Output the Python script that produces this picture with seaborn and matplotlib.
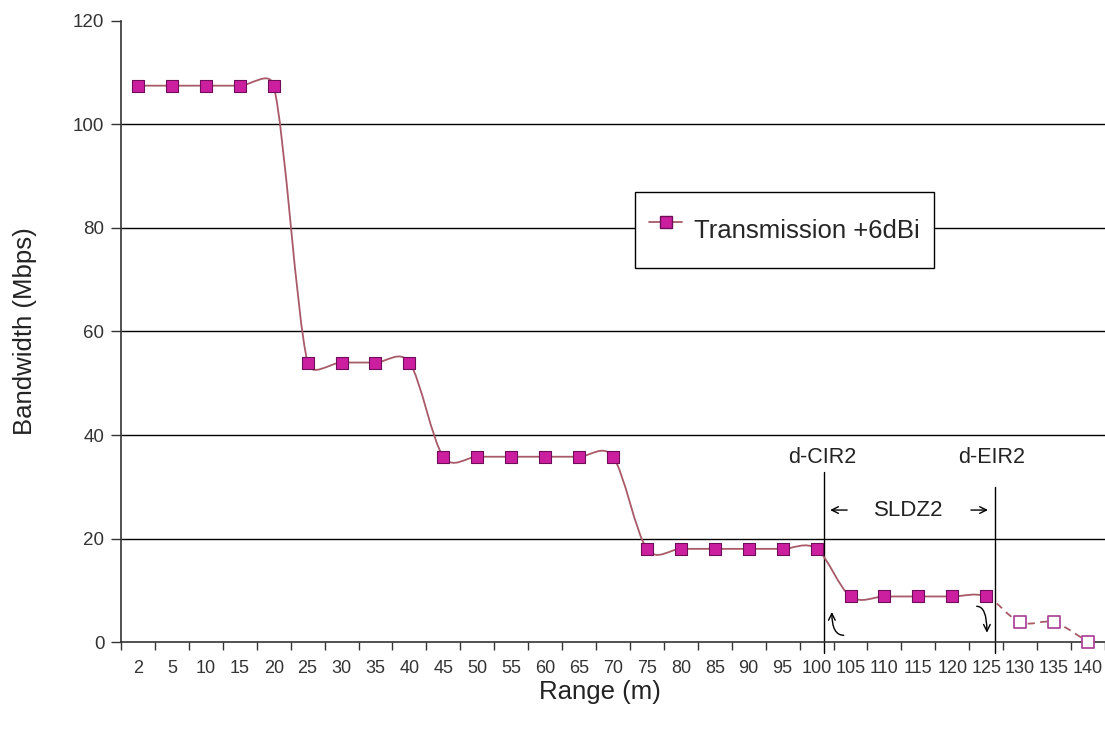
import numpy as np
import pandas as pd
import seaborn as sns
from matplotlib import pyplot as plt
from matplotlib.lines import Line2D
from matplotlib.patches import PathPatch
from matplotlib.path import Path

RANGE_M = ['2', '5', '10', '15', '20', '25', '30', '35', '40', '45', '50',
           '55', '60', '65', '70', '75', '80', '85', '90', '95', '100',
           '105', '110', '115', '120', '125', '130', '135', '140']
BANDWIDTH = [107.5, 107.5, 107.5, 107.5, 107.5,
             54, 54, 54, 54,
             35.8, 35.8, 35.8, 35.8, 35.8, 35.8,
             18, 18, 18, 18, 18, 18,
             8.8, 8.8, 8.8, 8.8, 8.8,
             3.8, 3.8, 0]
SOLID_LAST = '125'  # line is solid up to here, dashed after
Y_TICKS = [0, 20, 40, 60, 80, 100, 120]
SERIES_NAME = 'Transmission +6dBi'

# zone marks, in category-position units
D_CIR2 = 20.22
D_EIR2 = 25.27

LINE_COLOR = '#A85A68'
MARKER_FACE = '#CC1FA0'
MARKER_EDGE = '#6E0E58'
HOLLOW_EDGE = '#A83A95'


def smooth_segments(ax, xs, ys):
    # excel-like smoothed line: cubic bezier per segment, worked out in pixels
    pts = ax.transData.transform(np.column_stack([xs, ys]))
    n = len(pts)
    segs = []
    for i in range(n - 1):
        p0 = pts[max(i - 1, 0)]
        p1 = pts[i]
        p2 = pts[i + 1]
        p3 = pts[min(i + 2, n - 1)]
        cap = 0.5 * np.linalg.norm(p2 - p1)
        t1 = (p2 - p0) / 6
        t2 = (p3 - p1) / 6
        if np.linalg.norm(t1) > cap:
            t1 = t1 * cap / np.linalg.norm(t1)
        if np.linalg.norm(t2) > cap:
            t2 = t2 * cap / np.linalg.norm(t2)
        segs.append(np.array([p1, p1 + t1, p2 - t2, p2]))
    inv = ax.transData.inverted()
    return [inv.transform(s) for s in segs]


def segments_to_path(segs):
    verts = [segs[0][0]]
    codes = [Path.MOVETO]
    for s in segs:
        verts.extend(s[1:])
        codes.extend([Path.CURVE4] * 3)
    return Path(np.array(verts), codes)


def main():
    sns.set_theme(style='white')
    plt.rcParams['font.family'] = ['Liberation Sans', 'DejaVu Sans']

    df = pd.DataFrame({'range': RANGE_M, 'bandwidth': BANDWIDTH})
    df['pos'] = np.arange(len(df))
    split = RANGE_M.index(SOLID_LAST)
    solid = df.iloc[:split + 1]
    tail = df.iloc[split + 1:]

    fig = plt.figure(figsize=(11.05, 7.36), dpi=100)
    ax = fig.add_axes([0.1095, 0.1277, 0.8905, 0.8438])
    ax.set_xlim(-0.5, len(df) - 0.5)
    ax.set_ylim(Y_TICKS[0], Y_TICKS[-1])

    ax.hlines(Y_TICKS[1:-1], -0.5, len(df) - 0.5, color='black', lw=1, zorder=1)

    segs = smooth_segments(ax, df['pos'].values, df['bandwidth'].values)
    ax.add_patch(PathPatch(segments_to_path(segs[:split]), fill=False,
                           edgecolor=LINE_COLOR, lw=1.3, zorder=3))
    ax.add_patch(PathPatch(segments_to_path(segs[split:]), fill=False,
                           edgecolor=LINE_COLOR, lw=1.3, ls=(0, (4, 3)),
                           zorder=3, clip_on=False))

    sns.scatterplot(data=solid, x='pos', y='bandwidth', marker='s', s=78,
                    color=MARKER_FACE, edgecolor=MARKER_EDGE, linewidth=0.8,
                    zorder=4, ax=ax, legend=False, clip_on=False)
    sns.scatterplot(data=tail, x='pos', y='bandwidth', marker='s', s=78,
                    color='white', edgecolor=HOLLOW_EDGE, linewidth=1.2,
                    zorder=4, ax=ax, legend=False, clip_on=False)

    # zone annotations
    ax.plot([D_CIR2, D_CIR2], [-2.1, 32.9], color='black', lw=1, clip_on=False, zorder=2)
    ax.plot([D_EIR2, D_EIR2], [-2.1, 30.0], color='black', lw=1, clip_on=False, zorder=2)
    ax.text(20.16, 33.6, 'd-CIR2', ha='center', va='bottom', fontsize=15.5, color='#222222')
    ax.text(25.17, 33.6, 'd-EIR2', ha='center', va='bottom', fontsize=15.5, color='#222222')
    ax.text(22.72, 25.5, 'SLDZ2', ha='center', va='center', fontsize=16, color='#222222')
    arrow = dict(arrowstyle='->', lw=1, color='black', shrinkA=0, shrinkB=0)
    ax.annotate('', xy=(20.4, 25.5), xytext=(20.9, 25.5), arrowprops=arrow)
    ax.annotate('', xy=(25.05, 25.5), xytext=(24.55, 25.5), arrowprops=arrow)
    bent = dict(arrow, connectionstyle='angle3,angleA=0,angleB=90')
    ax.annotate('', xy=(20.45, 5.8), xytext=(20.8, 1.3), arrowprops=bent)
    ax.annotate('', xy=(25.02, 1.8), xytext=(24.72, 6.9), arrowprops=bent)

    # axes and ticks
    ax.set_xticks(df['pos'])
    ax.set_xticklabels(RANGE_M)
    ax.set_xticks(np.arange(-0.5, len(df)), minor=True)
    ax.set_yticks(Y_TICKS)
    ax.tick_params(axis='x', which='major', length=0, pad=13, labelsize=13,
                   labelcolor='#333333')
    ax.tick_params(axis='x', which='minor', length=6, width=1, color='#333333',
                   direction='out', bottom=True)
    ax.tick_params(axis='y', which='major', length=7, width=1, color='#333333',
                   direction='out', left=True, pad=5, labelsize=13.5,
                   labelcolor='#333333')

    sns.despine(ax=ax)
    for side in ['left', 'bottom']:
        ax.spines[side].set_color('#333333')
        ax.spines[side].set_linewidth(1.2)

    ax.set_xlabel('Range (m)', fontsize=18.5, color='#222222', va='center')
    ax.set_ylabel('Bandwidth (Mbps)', fontsize=18.5, color='#222222', va='center')
    ax.xaxis.set_label_coords(0.487, -0.08)
    ax.yaxis.set_label_coords(-0.0976, 0.5)

    handle = Line2D([], [], color=LINE_COLOR, lw=1.3, marker='s', markersize=8,
                    markerfacecolor=MARKER_FACE, markeredgecolor=MARKER_EDGE)
    leg = ax.legend([handle], [SERIES_NAME], loc='center', bbox_to_anchor=(0.674, 0.663),
                    fontsize=18.5, frameon=True, fancybox=False, edgecolor='black',
                    framealpha=1, borderpad=0.55, handlelength=1.3,
                    handletextpad=0.45, handleheight=2.5)
    leg.get_frame().set_linewidth(1.0)

    fig.savefig('out.png', dpi=100)


if __name__ == '__main__':
    main()
